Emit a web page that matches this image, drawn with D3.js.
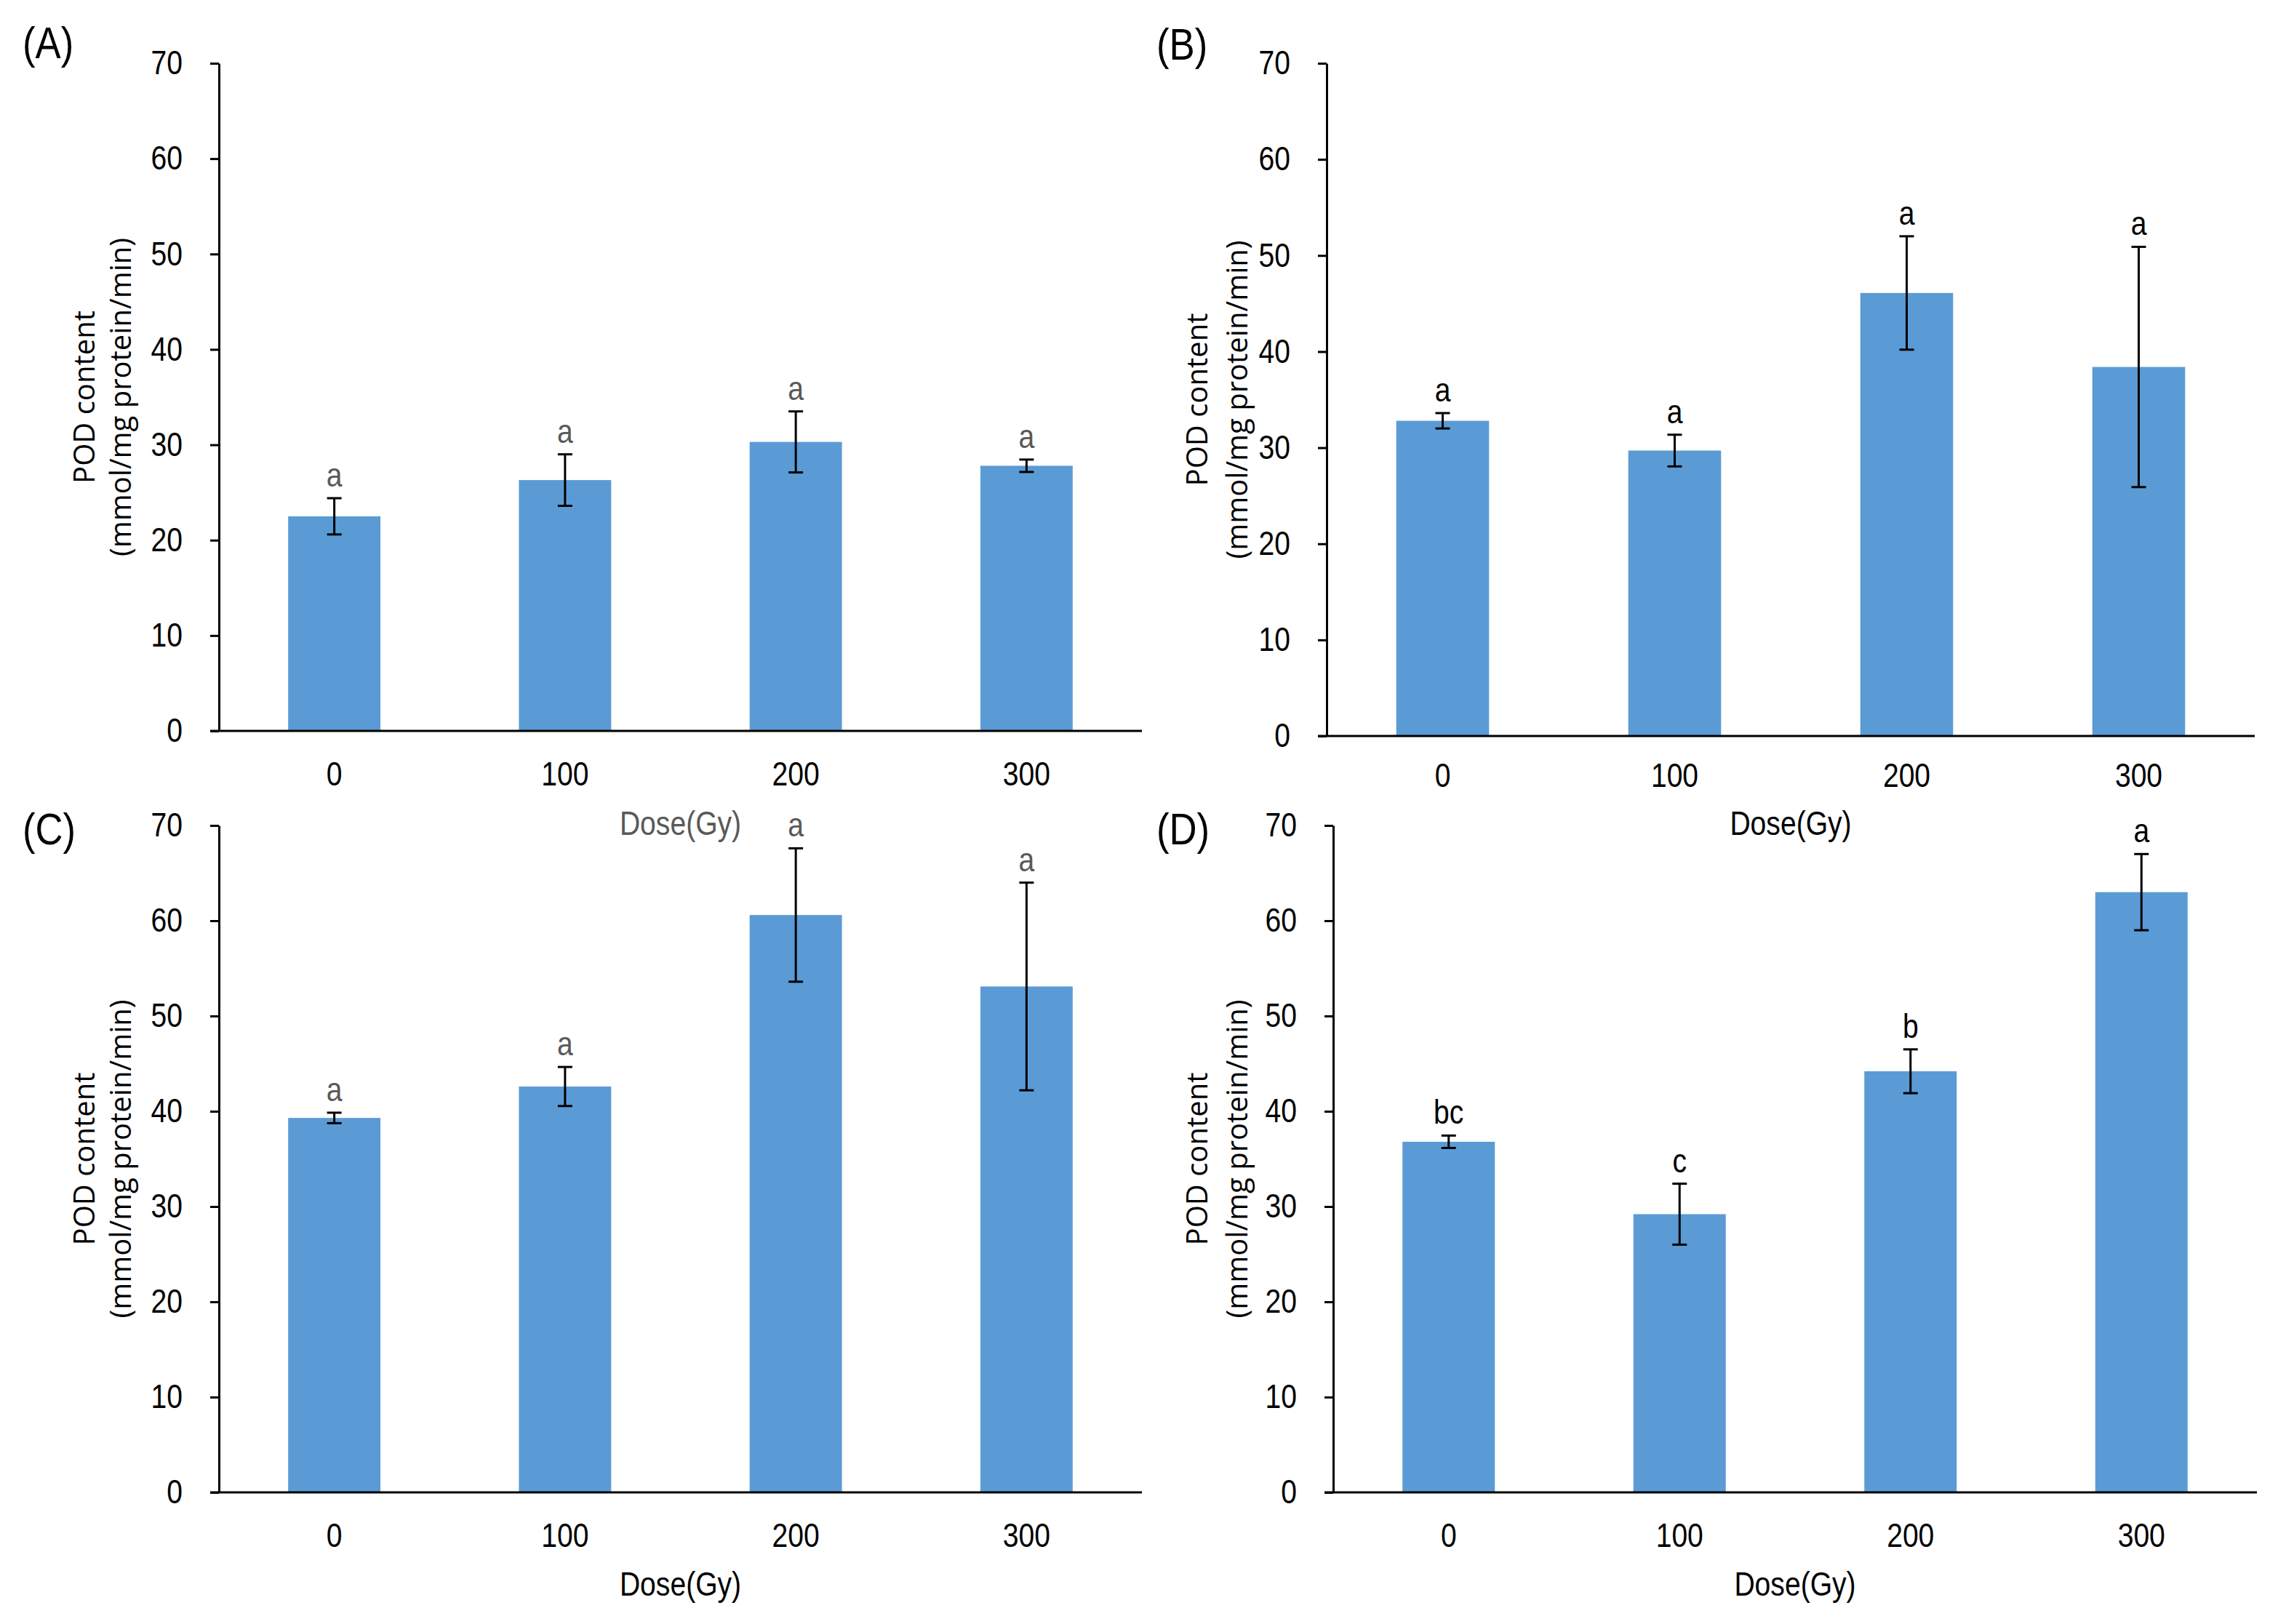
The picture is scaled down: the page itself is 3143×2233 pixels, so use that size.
<!DOCTYPE html>
<html>
<head>
<meta charset="utf-8">
<script src="https://cdn.jsdelivr.net/npm/d3@7"></script>
<style>
  body { margin: 0; background: #fff; }
  text { font-family: "Liberation Sans Narrow", "Liberation Sans", sans-serif; }
  .ylab { font-family: "Open Sans", sans-serif; }
</style>
</head>
<body>
<div id="chart"></div>
<script>
var doses = ["0", "100", "200", "300"];
var yTicks = [0, 10, 20, 30, 40, 50, 60, 70];

var meanA = [22.5, 26.3, 30.3, 27.8];
var errA = [1.9, 2.7, 3.2, 0.65];
var lettersA = ["a", "a", "a", "a"];

var meanB = [32.8, 29.7, 46.1, 38.4];
var errB = [0.8, 1.65, 5.9, 12.5];
var lettersB = ["a", "a", "a", "a"];

var meanC = [39.3, 42.6, 60.6, 53.1];
var errC = [0.55, 2.05, 7.0, 10.9];
var lettersC = ["a", "a", "a", "a"];

var meanD = [36.8, 29.2, 44.2, 63.0];
var errD = [0.65, 3.2, 2.3, 4.0];
var lettersD = ["bc", "c", "b", "a"];

var width = 3143;
var height = 2233;
var barColor = "#5b9bd5";
var squeeze = 0.85; // narrow the sans face a little, like the original's condensed look

// panel frames (pixel layout)
var panels = [
  { tag: "(A)", mean: meanA, err: errA, letters: lettersA, x0: 301, x1: 1570, y0: 87, y1: 1005, tx: 31, ty: 80, lab1: 116, lab2: 166, letterColor: "#595959", doseColor: "#595959", tickGap: 75, doseY: 1148 },
  { tag: "(B)", mean: meanB, err: errB, letters: lettersB, x0: 1824, x1: 3100, y0: 87, y1: 1012, tx: 1590, ty: 82, lab1: 1646, lab2: 1701, letterColor: "#000", doseColor: "#000", tickGap: 70, doseY: 1148 },
  { tag: "(C)", mean: meanC, err: errC, letters: lettersC, x0: 301, x1: 1570, y0: 1135, y1: 2052, tx: 31, ty: 1161, lab1: 116, lab2: 166, letterColor: "#595959", doseColor: "#000", tickGap: 75, doseY: 2194 },
  { tag: "(D)", mean: meanD, err: errD, letters: lettersD, x0: 1833, x1: 3103, y0: 1135, y1: 2052, tx: 1590, ty: 1161, lab1: 1646, lab2: 1701, letterColor: "#000", doseColor: "#000", tickGap: 75, doseY: 2194 }
];

var svg = d3.select("#chart").append("svg")
  .attr("width", width)
  .attr("height", height);

svg.append("rect")
  .attr("width", width)
  .attr("height", height)
  .attr("fill", "#fff");

function at(x, y) {
  return "translate(" + x + "," + y + ") scale(" + squeeze + ",1)";
}

panels.forEach(function (p) {
  var g = svg.append("g");

  var x = d3.scaleBand()
    .domain(doses)
    .range([p.x0, p.x1])
    .paddingInner(0.6)
    .paddingOuter(0.3);

  var y = d3.scaleLinear()
    .domain([0, 70])
    .range([p.y1, p.y0]);

  var mid = function (d) { return x(d) + x.bandwidth() / 2; };

  // bars
  g.selectAll("rect.bar")
    .data(doses)
    .enter().append("rect")
    .attr("class", "bar")
    .attr("x", function (d) { return x(d); })
    .attr("width", x.bandwidth())
    .attr("y", function (d, i) { return y(p.mean[i]); })
    .attr("height", function (d, i) { return p.y1 - y(p.mean[i]); })
    .attr("fill", barColor);

  // y axis
  var yAxis = d3.axisLeft(y)
    .tickValues(yTicks)
    .tickSize(12)
    .tickSizeOuter(0);

  var ya = g.append("g")
    .attr("transform", "translate(" + p.x0 + ",0)")
    .call(yAxis);
  ya.select(".domain").attr("stroke", "#000").attr("stroke-width", 3);
  ya.selectAll(".tick line").attr("stroke", "#000").attr("stroke-width", 3);
  ya.selectAll(".tick text")
    .attr("x", -50 / squeeze)
    .attr("transform", "scale(" + squeeze + ",1)")
    .attr("font-size", 46)
    .attr("fill", "#000")
    .style("font-family", "'Liberation Sans Narrow', 'Liberation Sans', sans-serif");

  // x axis line
  g.append("line")
    .attr("x1", p.x0 - 12)
    .attr("x2", p.x1)
    .attr("y1", p.y1)
    .attr("y2", p.y1)
    .attr("stroke", "#000")
    .attr("stroke-width", 3);

  var xAxis = d3.axisBottom(x).tickSize(0).tickPadding(0);
  var xa = g.append("g")
    .attr("transform", "translate(0," + p.y1 + ")")
    .call(xAxis);
  xa.select(".domain").remove();
  xa.selectAll(".tick text")
    .attr("dy", null)
    .attr("y", 0)
    .attr("transform", at(0, p.tickGap))
    .attr("font-size", 46)
    .attr("fill", "#000")
    .style("font-family", "'Liberation Sans Narrow', 'Liberation Sans', sans-serif");

  // error bars
  var eb = g.selectAll("g.err")
    .data(doses)
    .enter().append("g")
    .attr("class", "err")
    .attr("stroke", "#000")
    .attr("stroke-width", 3);

  eb.append("line")
    .attr("x1", mid)
    .attr("x2", mid)
    .attr("y1", function (d, i) { return y(p.mean[i] + p.err[i]); })
    .attr("y2", function (d, i) { return y(p.mean[i] - p.err[i]); });

  eb.append("line")
    .attr("x1", function (d) { return mid(d) - 10; })
    .attr("x2", function (d) { return mid(d) + 10; })
    .attr("y1", function (d, i) { return y(p.mean[i] + p.err[i]); })
    .attr("y2", function (d, i) { return y(p.mean[i] + p.err[i]); });

  eb.append("line")
    .attr("x1", function (d) { return mid(d) - 10; })
    .attr("x2", function (d) { return mid(d) + 10; })
    .attr("y1", function (d, i) { return y(p.mean[i] - p.err[i]); })
    .attr("y2", function (d, i) { return y(p.mean[i] - p.err[i]); });

  // significance letters
  g.selectAll("text.letter")
    .data(doses)
    .enter().append("text")
    .attr("class", "letter")
    .attr("transform", function (d, i) { return at(mid(d), y(p.mean[i] + p.err[i]) - 16); })
    .attr("text-anchor", "middle")
    .attr("font-size", 46)
    .attr("fill", p.letterColor)
    .text(function (d, i) { return p.letters[i]; });

  // x title
  g.append("text")
    .attr("transform", at((p.x0 + p.x1) / 2, p.doseY))
    .attr("text-anchor", "middle")
    .attr("font-size", 46)
    .attr("fill", p.doseColor)
    .text("Dose(Gy)");

  // y title
  var cy = (p.y0 + p.y1) / 2;
  g.append("text")
    .attr("class", "ylab")
    .attr("transform", "translate(" + p.lab1 + "," + cy + ") rotate(-90)")
    .attr("text-anchor", "middle")
    .attr("dy", "0.36em")
    .attr("font-size", 40)
    .attr("fill", "#000")
    .text("POD content");
  g.append("text")
    .attr("class", "ylab")
    .attr("transform", "translate(" + p.lab2 + "," + cy + ") rotate(-90)")
    .attr("text-anchor", "middle")
    .attr("dy", "0.36em")
    .attr("font-size", 40)
    .attr("fill", "#000")
    .text("(mmol/mg protein/min)");

  // panel tag
  g.append("text")
    .attr("transform", at(p.tx, p.ty))
    .attr("font-size", 62)
    .attr("fill", "#000")
    .text(p.tag);
});
</script>
</body>
</html>
